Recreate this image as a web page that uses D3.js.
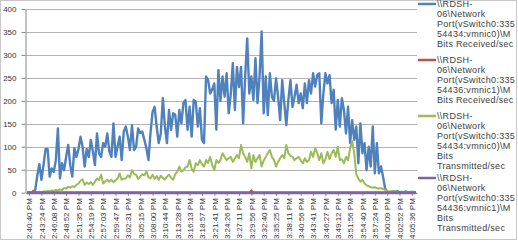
<!DOCTYPE html>
<html>
<head>
<meta charset="utf-8">
<script src="https://cdnjs.cloudflare.com/ajax/libs/d3/7.8.5/d3.min.js"></script>
<style>
	body { margin: 0; background: #fff; }
	svg text { font-family: "Liberation Sans", Arial, sans-serif; fill: #404040; }
</style>
</head>
<body>
<svg id="chart" width="518" height="242"></svg>
<script>
// time labels on the category axis (one every 6 samples)
var timeLabels = ["2:40:40 PM","2:43:24 PM","2:46:08 PM","2:48:52 PM","2:51:35 PM","2:54:19 PM",
	"2:57:03 PM","2:59:47 PM","3:02:31 PM","3:05:15 PM","3:08:00 PM","3:10:44 PM","3:13:28 PM",
	"3:16:13 PM","3:18:57 PM","3:21:41 PM","3:24:26 PM","3:27:11 PM","3:29:56 PM","3:32:40 PM",
	"3:35:25 PM","3:38:11 PM","3:40:56 PM","3:43:41 PM","3:46:27 PM","3:49:12 PM","3:51:56 PM",
	"3:54:40 PM","3:57:24 PM","4:00:09 PM","4:02:52 PM","4:05:36 PM"];
var labelEvery = 6, labelStart = 1;
var yTicks = [0, 50, 100, 150, 200, 250, 300, 350, 400];

// MBits/sec samples
var recv0 = [
	0,0,0,0,6,38,62,28,60,95,
	95,35,53,45,71,140,31,64,49,78,
	104,60,35,97,78,95,122,100,57,95,
	78,115,90,60,129,85,78,108,100,129,
	90,78,151,78,100,122,71,133,144,122,
	93,147,93,100,140,130,133,115,97,71,
	130,176,187,144,108,129,206,144,108,180,
	137,173,170,122,180,151,195,202,137,187,
	122,202,198,144,184,115,108,253,245,216,
	225,238,137,267,200,253,209,260,173,215,
	282,180,274,230,274,151,253,336,216,253,
	202,293,195,253,351,173,253,169,260,209,
	200,249,209,158,245,195,147,202,245,187,
	209,235,195,216,184,238,195,245,216,260,
	231,256,260,151,216,260,238,256,195,224,
	137,202,144,206,180,129,187,108,158,115,
	144,64,151,86,108,49,100,57,144,42,
	108,42,57,35,10,0,2,0,3,1,
	4,0,2,0,3,1,0,2,0,1];
var recv1 = [
	0,0,0,4,0,0,0,0,0,0, 0,0,0,0,0,0,0,0,0,0,
	0,0,0,0,0,0,0,0,0,0, 0,0,0,0,0,0,0,0,0,0,
	0,0,0,0,0,0,0,0,0,0, 0,0,0,0,0,0,0,0,0,0,
	0,0,0,0,0,0,0,0,0,0, 0,0,0,0,0,0,0,0,0,0,
	0,0,0,0,0,0,0,0,0,0, 0,0,0,0,0,0,0,0,0,0,
	0,0,0,0,0,0,0,0,0,5, 0,0,0,0,0,0,0,0,0,0,
	0,0,0,0,0,0,0,0,0,0, 0,0,0,0,0,0,0,0,0,0,
	0,0,0,0,0,0,0,0,0,0, 0,0,0,0,0,0,0,0,0,0,
	0,0,0,0,0,0,0,0,0,0, 0,0,0,0,0,0,0,0,0,0,
	0,0,0,0,0,0,0,0,0,0];
var sent0 = [
	0,0,0,0,0,1,2,1,3,2,
	4,3,5,4,6,5,7,6,10,9,
	13,11,14,12,17,20,26,29,17,22,
	19,23,17,24,31,28,39,20,25,28,
	24,28,23,27,31,42,28,31,31,38,
	33,49,41,39,30,35,40,38,46,34,
	31,39,30,36,28,37,32,29,35,39,
	33,28,40,46,57,46,49,55,57,71,
	52,46,64,60,71,62,57,71,65,78,
	60,49,71,65,71,86,78,71,75,78,
	67,75,82,75,104,86,78,67,86,53,
	82,67,75,82,57,70,78,86,93,78,
	71,57,67,75,82,75,104,86,80,78,
	71,75,78,70,64,75,67,71,89,78,
	97,86,71,86,64,73,89,73,86,93,
	78,100,71,73,64,78,71,97,112,86,
	40,31,24,28,20,16,14,12,11,12,
	10,9,10,8,6,3,2,3,2,4,
	2,1,2,1,3,1,2,1,2,1];
var sent1 = [
	0,0,0,0,0,0,0,0,0,0, 0,0,0,0,0,0,0,0,0,0,
	0,0,0,0,0,0,0,0,0,0, 0,0,0,0,0,0,0,0,0,0,
	0,0,0,0,0,0,0,0,0,0, 0,0,0,0,0,0,0,0,0,0,
	0,0,0,0,0,0,0,0,0,0, 0,0,0,0,0,0,0,0,0,0,
	0,0,0,0,0,0,0,0,0,0, 0,0,0,0,0,0,0,0,0,0,
	0,0,0,0,0,0,0,0,0,0, 0,0,0,0,0,0,0,0,0,0,
	0,0,0,0,0,0,0,0,0,0, 0,0,0,0,0,0,0,0,0,0,
	0,0,0,0,0,0,0,0,0,0, 0,0,0,0,0,0,0,0,0,0,
	0,0,0,0,0,0,0,0,0,0, 0,0,0,0,0,0,0,0,0,0,
	0,0,0,0,0,0,0,0,0,0];

// legend text, wrapped the way the original is
var seriesNames = [
	["\\\\RDSH-", "06\\Network", "Port(vSwitch0:335", "54434:vmnic0)\\M", "Bits Received/sec"],
	["\\\\RDSH-", "06\\Network", "Port(vSwitch0:335", "54436:vmnic1)\\M", "Bits Received/sec"],
	["\\\\RDSH-", "06\\Network", "Port(vSwitch0:335", "54434:vmnic0)\\M", "Bits", "Transmitted/sec"],
	["\\\\RDSH-", "06\\Network", "Port(vSwitch0:335", "54436:vmnic1)\\M", "Bits", "Transmitted/sec"]];
var seriesColors = ["#4F81BD", "#C0504D", "#9BBB59", "#8064A2"];
var seriesWidths = [2.4, 2, 2, 3];

var series = [recv0, recv1, sent0, sent1];
var n = recv0.length;

var svg = d3.select("#chart");
var plot = {left: 26, right: 417, top: 9, bottom: 192.7};

// chart area border
svg.append("rect").attr("x", 0.5).attr("y", 0.5)
	.attr("width", 516).attr("height", 239)
	.attr("fill", "none").attr("stroke", "#c8c8c8");

var x = d3.scaleLinear().domain([-0.5, n - 0.5]).range([plot.left, plot.right]);
var y = d3.scaleLinear().domain([0, 400]).range([plot.bottom, plot.top]);

// gridlines
svg.append("g").selectAll("line").data(yTicks).enter().append("line")
	.attr("x1", plot.left).attr("x2", plot.right)
	.attr("y1", function(d){ return Math.round(y(d)) + 0.5; })
	.attr("y2", function(d){ return Math.round(y(d)) + 0.5; })
	.attr("stroke", "#b4b4b4").attr("stroke-width", 1);

// y axis
var yAxis = svg.append("g").attr("transform", "translate(" + (plot.left - 0.5) + ",0)")
	.call(d3.axisLeft(y).tickValues(yTicks).tickSize(4).tickSizeOuter(0).tickPadding(5));
yAxis.selectAll("text").style("font-size", "8px").style("fill", "#333");

// x axis (category labels every 6th sample)
var tickIdx = timeLabels.map(function(d, i){ return labelStart + i * labelEvery; });
var xAxis = svg.append("g").attr("transform", "translate(0," + y(0) + ")")
	.call(d3.axisBottom(x).tickValues(tickIdx).tickSize(3).tickSizeOuter(0)
		.tickFormat(function(d, i){ return timeLabels[i]; }));
xAxis.selectAll("text")
	.attr("transform", "rotate(-90)")
	.attr("text-anchor", "end")
	.attr("x", -5.5).attr("y", 0).attr("dy", "0.35em")
	.style("font-size", "8px").style("fill", "#333");
svg.selectAll(".domain, .tick line").attr("stroke", "#868686");

// series lines
var line = d3.line()
	.x(function(d, i){ return x(i); })
	.y(function(d){ return y(d); });
svg.append("g").selectAll("path").data(series).enter().append("path")
	.attr("d", line)
	.attr("fill", "none")
	.attr("stroke", function(d, i){ return seriesColors[i]; })
	.attr("stroke-width", function(d, i){ return seriesWidths[i]; })
	.attr("stroke-linejoin", "round");

// legend
var legendY = [4, 60, 116, 178];
var legend = svg.append("g").selectAll("g").data(seriesNames).enter().append("g")
	.attr("transform", function(d, i){ return "translate(418," + legendY[i] + ")"; });
legend.append("line")
	.attr("x1", 0).attr("x2", 18).attr("y1", 0).attr("y2", 0)
	.attr("stroke", function(d, i){ return seriesColors[i]; })
	.attr("stroke-width", 2.5);
legend.append("text")
	.attr("x", 19)
	.style("font-size", "9px").style("letter-spacing", "0.3px")
	.selectAll("tspan").data(function(d){ return d; }).enter().append("tspan")
	.attr("x", 19)
	.attr("y", function(d, i){ return i * 10; })
	.attr("dy", "0.35em")
	.text(function(d){ return d; });
</script>
</body>
</html>
